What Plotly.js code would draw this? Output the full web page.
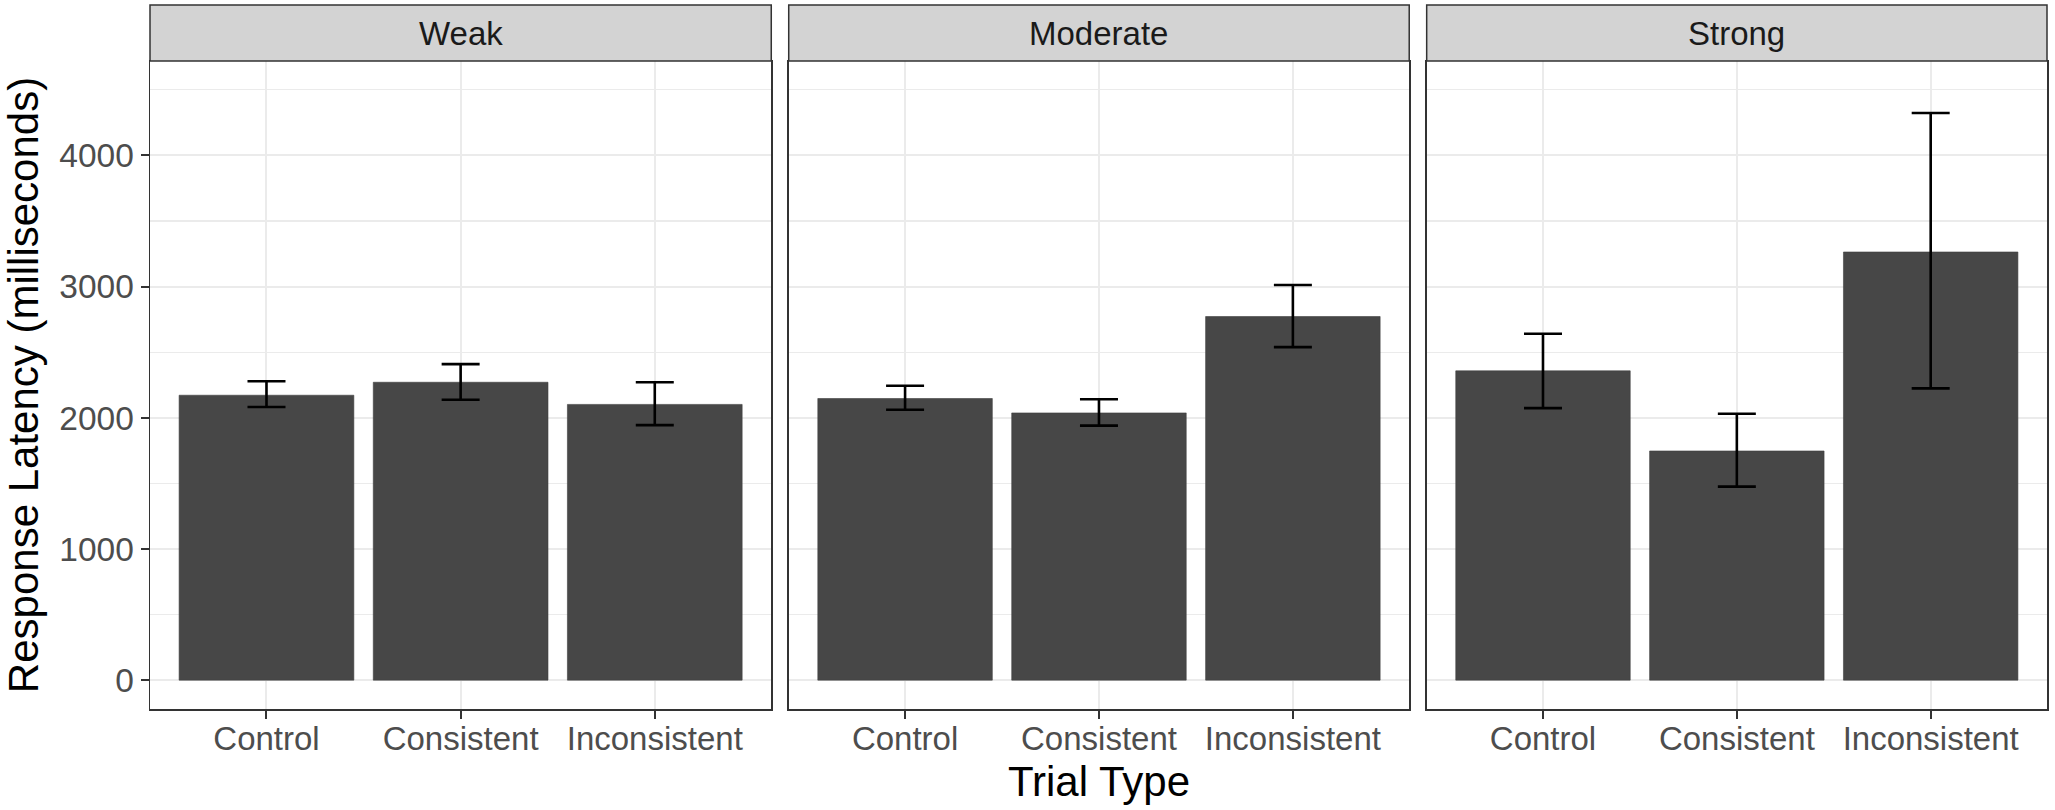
<!DOCTYPE html>
<html>
<head>
<meta charset="utf-8">
<script src="https://cdn.plot.ly/plotly-3.0.1.min.js"></script>
<style>
  body { margin: 0; background: #fff; }
</style>
</head>
<body>
<div id="chart" style="width:2055px;height:810px;"></div>
<script>
// values (ms)
const trialTypes = ["Control", "Consistent", "Inconsistent"];
const strengths = ["Weak", "Moderate", "Strong"];

const weakMean = [2172, 2271, 2102];
const weakHi   = [2279, 2409, 2271];
const weakLo   = [2082, 2137, 1944];

const moderateMean = [2147, 2037, 2772];
const moderateHi   = [2244, 2141, 3012];
const moderateLo   = [2061, 1940, 2539];

const strongMean = [2358, 1747, 3264];
const strongHi   = [2641, 2031, 4324];
const strongLo   = [2074, 1475, 2224];

const yTicks = [0, 1000, 2000, 3000, 4000];

const panels = [
    {mean: weakMean, hi: weakHi, lo: weakLo},
    {mean: moderateMean, hi: moderateHi, lo: moderateLo},
    {mean: strongMean, hi: strongHi, lo: strongLo},
];
const domains = [[0, 0.3275], [0.3367, 0.6638], [0.673, 1]];

const font = "Liberation Sans, Arial, Helvetica, sans-serif";
const stripH = 56 / 648;

const data = panels.map((p, i) => ({
    type: "bar",
    x: trialTypes,
    y: p.mean,
    width: 0.9,
    marker: {color: "#474747", line: {color: "#3f3f3f", width: 0.6}},
    error_y: {
        type: "data",
        symmetric: false,
        array: p.hi.map((v, j) => v - p.mean[j]),
        arrayminus: p.mean.map((v, j) => v - p.lo[j]),
        color: "#000000",
        thickness: 2.6,
        width: 19,
    },
    xaxis: i ? "x" + (i + 1) : "x",
    yaxis: i ? "y" + (i + 1) : "y",
    showlegend: false,
    hoverinfo: "x+y",
}));

const layout = {
    width: 2055,
    height: 810,
    margin: {l: 150, r: 8, t: 61, b: 101},
    paper_bgcolor: "#ffffff",
    plot_bgcolor: "#ffffff",
    font: {family: font, color: "#4D4D4D"},
    shapes: [],
    annotations: [],
};

domains.forEach((dom, i) => {
    const sx = i ? String(i + 1) : "";
    layout["xaxis" + sx] = {
        domain: dom,
        anchor: "y" + sx,
        type: "category",
        range: [-0.6, 2.6],
        showgrid: true,
        gridcolor: "#EBEBEB",
        gridwidth: 2,
        showline: true,
        mirror: true,
        linecolor: "#333333",
        linewidth: 1.5,
        ticks: "outside",
        ticklen: 8,
        tickwidth: 2,
        tickcolor: "#333333",
        ticklabelstandoff: -8,
        tickfont: {size: 33, color: "#4D4D4D", family: font},
        zeroline: false,
        fixedrange: true,
    };
    layout["yaxis" + sx] = {
        anchor: "x" + sx,
        range: [-220, 4720],
        tickvals: yTicks,
        showticklabels: i === 0,
        ticks: i === 0 ? "outside" : "",
        ticklen: 8,
        tickwidth: 2,
        tickcolor: "#333333",
        tickfont: {size: 33.5, color: "#4D4D4D", family: font},
        showgrid: true,
        gridcolor: "#EBEBEB",
        gridwidth: 2,
        minor: {dtick: 500, tick0: 0, showgrid: true, gridcolor: "#EBEBEB", gridwidth: 1.2},
        showline: true,
        mirror: true,
        linecolor: "#333333",
        linewidth: 1.5,
        zeroline: false,
        fixedrange: true,
    };
    if (i) layout["yaxis" + sx].matches = "y";

    layout.shapes.push({
        type: "rect", xref: "paper", yref: "paper",
        x0: dom[0], x1: dom[1], y0: 1, y1: 1 + stripH,
        fillcolor: "#D3D3D3",
        line: {color: "#333333", width: 1.5},
    });
    layout.annotations.push({
        text: strengths[i],
        xref: "paper", yref: "paper",
        x: (dom[0] + dom[1]) / 2, y: 1 + stripH / 2,
        xanchor: "center", yanchor: "middle",
        showarrow: false,
        font: {size: 33, color: "#1A1A1A", family: font},
    });
});

layout.yaxis.title = {
    text: "Response Latency (milliseconds)",
    font: {size: 42, color: "#000000", family: font},
    standoff: 10,
};
layout.xaxis2.title = {
    text: "Trial Type",
    font: {size: 42, color: "#000000", family: font},
    standoff: 10,
};

Plotly.newPlot("chart", data, layout, {displayModeBar: false, staticPlot: true});
</script>
</body>
</html>
